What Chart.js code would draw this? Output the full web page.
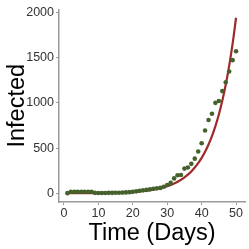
<!DOCTYPE html>
<html>
<head>
<meta charset="utf-8">
<script src="https://cdn.jsdelivr.net/npm/chart.js@4"></script>
<style>
  html, body { margin: 0; padding: 0; background: #fff; }
  #wrap { width: 249px; height: 249px; }
</style>
</head>
<body>
<div id="wrap"><canvas id="infChart" width="249" height="249"></canvas></div>
<script>
// observed infections per day
const days = [1,2,3,4,5,6,7,8,9,10,11,12,13,14,15,16,17,18,19,20,21,22,23,24,25,26,27,28,29,30,31,32,33,34,35,36,37,38,39,40,41,42,43,44,45,46,47,48,49,50];
const infected = [2,18,18,18,18,18,18,18,5,4,4,4,5,5,6,7,8,10,13,16,22,28,33,38,44,50,55,60,72,92,115,165,200,203,273,285,326,383,462,553,695,810,880,1000,1020,1130,1228,1346,1472,1571];
// fitted curve
const fitted = [0.8,0.9,1.1,1.2,1.5,1.7,2,2.3,2.8,3.2,3.8,4.4,5.2,6.1,7.2,8.4,9.9,11.6,13.6,16,18.7,22,25.8,30.3,35.5,41.7,49,57.4,67.4,79,93,109,128,150,176,207,242,285,334,392,460,540,633,743,872,1023,1201,1409,1654,1941];
const xTicks = [0,10,20,30,40,50];
const yTicks = [0,500,1000,1500,2000];

const font = "'Liberation Sans', Arial, Helvetica, sans-serif";

document.addEventListener("DOMContentLoaded", () => {
    new Chart(document.getElementById("infChart"), {
        type: 'scatter',
        data: {
            datasets: [{
                label: "Infected",
                data: days.map((d, i) => ({ x: d, y: infected[i] })),
                backgroundColor: "#46622c",
                borderWidth: 0,
                pointRadius: 2.3,
                order: 0
            }, {
                label: "Model",
                data: days.map((d, i) => ({ x: d, y: fitted[i] })),
                showLine: true,
                borderColor: "#9e2a2b",
                borderWidth: 2.2,
                pointRadius: 0,
                cubicInterpolationMode: 'monotone',
                order: 1
            }]
        },
        options: {
            responsive: false,
            animation: false,
            layout: { padding: { top: 2, right: 2, left: 0, bottom: 0 } },
            plugins: { legend: { display: false }, tooltip: { enabled: false } },
            scales: {
                x: {
                    type: 'linear',
                    min: -1.45,
                    max: 52.6,
                    afterBuildTicks: s => { s.ticks = xTicks.map(v => ({ value: v })); },
                    afterFit: s => { s.height = 47; },
                    grid: { drawOnChartArea: false, tickLength: 3, tickColor: "#999", tickWidth: 1 },
                    border: { color: "#999", width: 1.5 },
                    ticks: { color: "#333", padding: 1, font: { family: font, size: 12.5 },
                             callback: v => String(v) },
                    title: { display: true, text: "Time (Days)", color: "#000",
                             font: { family: font, size: 23.5, lineHeight: 1 }, padding: { top: 4, bottom: 4 } }
                },
                y: {
                    type: 'linear',
                    min: -96,
                    max: 2032,
                    afterBuildTicks: s => { s.ticks = yTicks.map(v => ({ value: v })); },
                    afterFit: s => { s.width = 59; },
                    grid: { drawOnChartArea: false, tickLength: 3, tickColor: "#999", tickWidth: 1 },
                    border: { color: "#999", width: 1.5 },
                    ticks: { color: "#333", padding: 2, font: { family: font, size: 12.5 },
                             callback: v => String(v) },
                    title: { display: true, text: "Infected", color: "#000",
                             font: { family: font, size: 23.5, lineHeight: 1 }, padding: { top: 6, bottom: 4 } }
                }
            }
        }
    });
});
</script>
</body>
</html>
